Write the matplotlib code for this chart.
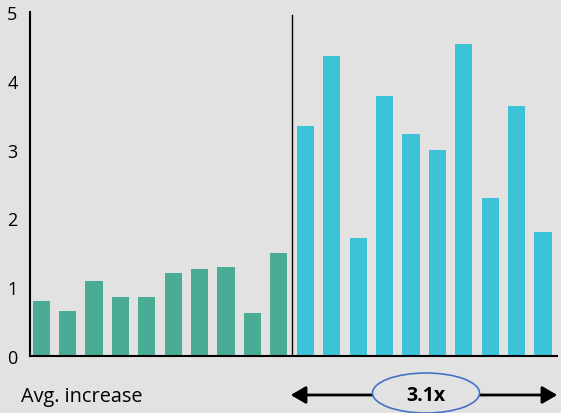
import matplotlib.pyplot as plt
from matplotlib.patches import Ellipse, FancyArrowPatch

plt.rcParams["font.family"] = ["Open Sans", "DejaVu Sans"]

# before / after groups
before_vals = [0.80, 0.66, 1.09, 0.86, 0.86, 1.21, 1.27, 1.30, 0.63, 1.50]
after_vals = [3.34, 4.36, 1.71, 3.78, 3.23, 2.99, 4.54, 2.29, 3.63, 1.80]
y_ticks = [0, 1, 2, 3, 4, 5]
avg_label = "Avg. increase"
ratio_label = "3.1x"

BG = "#e2e2e2"
GREEN = "#4aac94"
BLUE = "#3cc3d8"

fig = plt.figure(figsize=(5.61, 4.14), dpi=100, facecolor=BG)
ax = fig.add_axes([0.0535, 0.1377, 0.9395, 0.8309])
ax.set_facecolor(BG)

n = len(before_vals)
x_before = list(range(n))
x_after = list(range(n, n + len(after_vals)))
ax.bar(x_before, before_vals, width=0.65, color=GREEN)
ax.bar(x_after, after_vals, width=0.65, color=BLUE)

# divider between the two groups
ax.axvline(n - 0.5, ymin=0, ymax=0.99, color="black", lw=1.0)

ax.set_xlim(-0.42, 19.53)
ax.set_ylim(0, 5)
ax.set_yticks(y_ticks)
ax.set_xticks([])
ax.tick_params(axis="y", length=0, pad=9, labelsize=13)
for side in ["top", "right"]:
    ax.spines[side].set_visible(False)
for side in ["left", "bottom"]:
    ax.spines[side].set_linewidth(1.5)
    ax.spines[side].set_color("black")

# bottom annotation
fig.text(21 / 561, 1 - 397 / 414, avg_label, fontsize=14.3, va="center", ha="left")
y_arr = 1 - 396 / 414
fig.add_artist(FancyArrowPatch(
    (288 / 561, y_arr), (560 / 561, y_arr), transform=fig.transFigure,
    arrowstyle="<|-|>,head_length=6,head_width=3.5", color="black", lw=2,
    mutation_scale=1.5))
fig.add_artist(Ellipse((426 / 561, 1 - 394 / 414), 107 / 561, 40 / 414,
                       transform=fig.transFigure, facecolor=BG,
                       edgecolor="#4472c4", lw=1.2))
fig.text(426 / 561, 1 - 396 / 414, ratio_label, fontsize=14,
         fontweight="bold", ha="center", va="center")

fig.savefig("out.png", dpi=100, facecolor=BG)
